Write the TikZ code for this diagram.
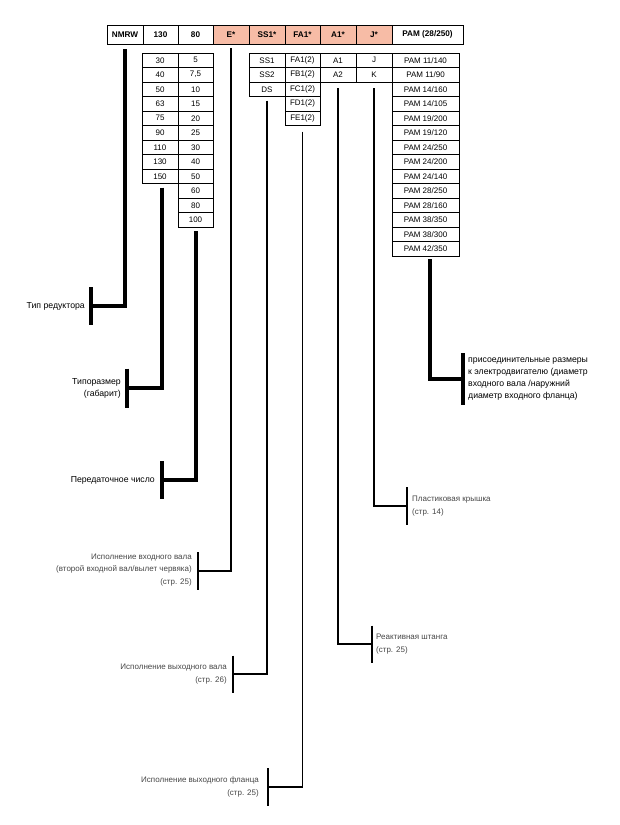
\documentclass[tikz,border=0pt]{standalone}
\usepackage{fontspec}
\setmainfont{Liberation Sans}
\definecolor{salmon}{RGB}{247,188,166}
\definecolor{labelgray}{RGB}{70,70,70}
\begin{document}
\begin{tikzpicture}[x=1pt,y=-1pt]
\tikzset{
  cell/.style={draw, line width=0.7pt, anchor=north west, inner sep=0pt, outer sep=0pt,
    minimum height=14.5pt, font=\fontsize{8}{9}\selectfont},
  hcell/.style={cell, minimum height=19pt, font=\fontsize{8.2}{9}\selectfont\bfseries},
  shaded/.style={fill=salmon},
  boldline/.style={line width=4pt},
  thinline/.style={line width=1.1pt},
  blabel/.style={font=\fontsize{8.7}{12}\selectfont, inner sep=0pt},
  glabel/.style={font=\fontsize{8}{12.5}\selectfont, text=labelgray, inner sep=0pt}
}
\useasboundingbox (0,0) rectangle (620,825);
% header
\node[hcell, minimum width=36pt] (hN) at (107,25) {NMRW};
\node[hcell, minimum width=35pt] (hS) at (143,25) {130};
\node[hcell, minimum width=35pt] (hR) at (178,25) {80};
\node[hcell, shaded, minimum width=36pt] (hE) at (213,25) {E*};
\node[hcell, shaded, minimum width=36pt] (hSS) at (249,25) {SS1*};
\node[hcell, shaded, minimum width=35pt] (hFA) at (285,25) {FA1*};
\node[hcell, shaded, minimum width=36pt] (hA) at (320,25) {A1*};
\node[hcell, shaded, minimum width=36pt] (hJ) at (356,25) {J*};
\node[hcell, minimum width=71pt] (hP) at (392,25) {PAM (28/250)};
% size column
\foreach \t [count=\i] in {30,40,50,63,75,90,110,130,150}
  \node[cell, minimum width=36pt] (sz\i) at ({142},{53+(\i-1)*14.5}) {\t};
% ratio column
\foreach \t [count=\i] in {5,{7,5},10,15,20,25,30,40,50,60,80,100}
  \node[cell, minimum width=35pt] (rt\i) at ({178},{53+(\i-1)*14.5}) {\t};
% SS column
\foreach \t [count=\i] in {SS1,SS2,DS}
  \node[cell, minimum width=36pt] (ss\i) at ({249},{53+(\i-1)*14.5}) {\t};
% FA column
\foreach \t [count=\i] in {FA1(2),FB1(2),FC1(2),FD1(2),FE1(2)}
  \node[cell, minimum width=35pt] (fa\i) at ({285},{53+(\i-1)*14.5}) {\t};
% A column
\foreach \t [count=\i] in {A1,A2}
  \node[cell, minimum width=36pt] (ar\i) at ({320},{53+(\i-1)*14.5}) {\t};
% J column
\foreach \t [count=\i] in {J,K}
  \node[cell, minimum width=36pt] (jr\i) at ({356},{53+(\i-1)*14.5}) {\t};
% PAM column
\foreach \t [count=\i] in {PAM 11/140,PAM 11/90,PAM 14/160,PAM 14/105,PAM 19/200,PAM 19/120,PAM 24/250,PAM 24/200,PAM 24/140,PAM 28/250,PAM 28/160,PAM 38/350,PAM 38/300,PAM 42/350}
  \node[cell, minimum width=67pt] (pm\i) at ({392},{53+(\i-1)*14.5}) {\t};

% bar coordinates
\coordinate (bN) at (91,306);
\coordinate (bS) at (127,388);
\coordinate (bR) at (162,480);
\coordinate (bP) at (463,379);
\coordinate (bE) at (198,571);
\coordinate (bSS) at (233,674);
\coordinate (bFA) at (268,787);
\coordinate (bA) at (372,644);
\coordinate (bJ) at (407,506);

% bold connectors
\draw[boldline] ([yshift=-5pt]hN.south) |- (bN);
\draw[boldline] ([yshift=19pt]bN) -- ([yshift=-19pt]bN);
\draw[boldline] ([xshift=1.5pt,yshift=-4pt]sz9.south) |- (bS);
\draw[boldline] ([yshift=19.5pt]bS) -- ([yshift=-19.5pt]bS);
\draw[boldline] ([xshift=0.5pt,yshift=-4pt]rt12.south) |- (bR);
\draw[boldline] ([yshift=19pt]bR) -- ([yshift=-19pt]bR);
\draw[boldline] ([xshift=4.5pt,yshift=-3pt]pm14.south) |- (bP);
\draw[boldline] ([yshift=26pt]bP) -- ([yshift=-26pt]bP);

% thin connectors
\draw[thinline] ([yshift=-4pt]hE.south) |- (bE);
\draw[thinline] ([yshift=19pt]bE) -- ([yshift=-19pt]bE);
\draw[thinline] ([yshift=-4pt]ss3.south) |- (bSS);
\draw[thinline] ([yshift=18.5pt]bSS) -- ([yshift=-18.5pt]bSS);
\draw[thinline] ([yshift=-6pt]fa5.south) |- (bFA);
\draw[thinline] ([yshift=19pt]bFA) -- ([yshift=-19pt]bFA);
\draw[thinline] ([yshift=-6pt]ar2.south) |- (bA);
\draw[thinline] ([yshift=18.5pt]bA) -- ([yshift=-18.5pt]bA);
\draw[thinline] ([yshift=-6pt]jr2.south) |- (bJ);
\draw[thinline] ([yshift=19pt]bJ) -- ([yshift=-19pt]bJ);

% labels
\node[blabel, anchor=east] (lN) at ([xshift=-6pt]bN) {Тип редуктора};
\node[blabel, anchor=east, align=right] (lS) at ([xshift=-6pt]bS) {Типоразмер\\(габарит)};
\node[blabel, anchor=east] (lR) at ([xshift=-7pt]bR) {Передаточное число};
\node[blabel, anchor=west, align=left] (lP) at ([xshift=5pt]bP) {присоединительные размеры\\к электродвигателю (диаметр\\входного вала /наружний\\диаметр входного фланца)};
\node[glabel, anchor=east, align=right] (lE) at ([xshift=-6pt,yshift=1pt]bE) {Исполнение входного вала\\(второй входной вал/вылет червяка)\\(стр. 25)};
\node[glabel, anchor=east, align=right] (lSS) at ([xshift=-6pt]bSS) {Исполнение выходного вала\\(стр. 26)};
\node[glabel, anchor=east, align=right] (lFA) at ([xshift=-9pt]bFA) {Исполнение выходного фланца\\(стр. 25)};
\node[glabel, anchor=west, align=left] (lA) at ([xshift=4pt]bA) {Реактивная штанга\\(стр. 25)};
\node[glabel, anchor=west, align=left] (lJ) at ([xshift=5pt]bJ) {Пластиковая крышка\\(стр. 14)};
\end{tikzpicture}
\end{document}
